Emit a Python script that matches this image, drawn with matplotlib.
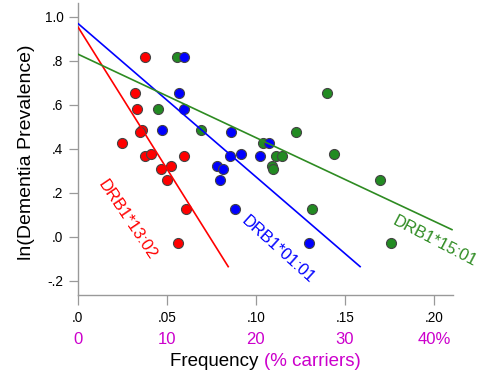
import matplotlib
matplotlib.use("Agg")
import matplotlib.pyplot as plt
import matplotlib.transforms as mtransforms
import numpy as np

plt.rcParams['font.family'] = ['Liberation Sans', 'DejaVu Sans']

# ---- data ----
red_x = [0.0378, 0.0323, 0.0331, 0.0361, 0.0351, 0.0247, 0.0379, 0.0410,
         0.0466, 0.0525, 0.0499, 0.0598, 0.0609, 0.0561]
red_y = [0.818, 0.655, 0.580, 0.484, 0.475, 0.425, 0.367, 0.377,
         0.308, 0.321, 0.256, 0.367, 0.125, -0.029]

blue_x = [0.0598, 0.0570, 0.0599, 0.0472, 0.0859, 0.0855, 0.0915, 0.0780,
          0.0817, 0.0799, 0.1025, 0.1071, 0.0883, 0.1298]
blue_y = [0.818, 0.655, 0.580, 0.484, 0.475, 0.368, 0.377, 0.320,
          0.308, 0.258, 0.368, 0.427, 0.126, -0.029]

green_x = [0.0556, 0.0451, 0.0694, 0.1400, 0.1225, 0.1037, 0.1438, 0.1110,
           0.1149, 0.1088, 0.1094, 0.1698, 0.1313, 0.1758]
green_y = [0.818, 0.580, 0.484, 0.655, 0.475, 0.426, 0.377, 0.368,
           0.368, 0.320, 0.307, 0.258, 0.126, -0.029]

# fit lines: (x_start, x_end, intercept, slope)
red_fit = (0.0, 0.0847, 0.955, -12.92)
blue_fit = (0.0, 0.1588, 0.970, -6.98)
green_fit = (0.0, 0.2104, 0.830, -3.80)

labels = ["DRB1*13:02", "DRB1*01:01", "DRB1*15:01"]

x_ticks = [0.0, 0.05, 0.10, 0.15, 0.20]
x_tick_labels = [".0", ".05", ".10", ".15", ".20"]
carrier_labels = ["0", "10", "20", "30", "40%"]
y_ticks = [-0.2, 0.0, 0.2, 0.4, 0.6, 0.8, 1.0]
y_tick_labels = ["-.2", ".0", ".2", ".4", ".6", ".8", "1.0"]

RED = '#ff0000'
BLUE = '#0000ff'
GREEN = '#228b22'
LGREEN = '#2e8b22'
MAG = '#cc00cc'

fig = plt.figure(figsize=(4.83, 3.85), dpi=100)
ax = fig.add_axes([77.7 / 483, 1 - 295 / 385, (452.7 - 77.7) / 483, (295 - 3) / 385])

ms = 52
ax.scatter(red_x, red_y, s=ms, c=RED, edgecolors='#444444', linewidths=0.8, zorder=3)
ax.scatter(green_x, green_y, s=ms, c=GREEN, edgecolors='#444444', linewidths=0.8, zorder=3)
ax.scatter(blue_x, blue_y, s=ms, c=BLUE, edgecolors='#444444', linewidths=0.8, zorder=3)

for fit, col in [(red_fit, RED), (blue_fit, BLUE), (green_fit, LGREEN)]:
    x0, x1, b, m = fit
    xs = np.array([x0, x1])
    ax.plot(xs, b + m * xs, color=col, lw=1.2, zorder=4, solid_capstyle='butt')

ax.set_xlim(0, 0.2104)
ax.set_ylim(-0.265, 1.062)
ax.set_xticks(x_ticks)
ax.set_xticklabels(x_tick_labels, fontsize=9.8)
ax.set_yticks(y_ticks)
ax.set_yticklabels(y_tick_labels, fontsize=9.8)
ax.tick_params(axis='x', direction='out', length=7, width=0.9, color='#999999', pad=4.5)
ax.tick_params(axis='y', direction='out', length=6.8, width=0.9, color='#999999', pad=3.5)
for s in ['top', 'right']:
    ax.spines[s].set_visible(False)
for s in ['left', 'bottom']:
    ax.spines[s].set_color('#999999')
    ax.spines[s].set_linewidth(1.0)

# carriers labels
trans = mtransforms.blended_transform_factory(ax.transData, ax.transAxes)
for xv, lab in zip(x_ticks, carrier_labels):
    ax.text(xv, -0.151, lab, transform=trans, ha='center', va='center',
            color=MAG, fontsize=12, clip_on=False)

# line labels
ax.text(0.0280, 0.075, labels[0], color=RED, fontsize=12, rotation=-56,
        rotation_mode='anchor', ha='center', va='center')
ax.text(0.1121, -0.06, labels[1], color=BLUE, fontsize=12, rotation=-42,
        rotation_mode='anchor', ha='center', va='center')
ax.text(0.2005, -0.02, labels[2], color=LGREEN, fontsize=12, rotation=-27.5,
        rotation_mode='anchor', ha='center', va='center', clip_on=False)

# y label
fig.text(27 / 483, 1 - 152 / 385, "ln(Dementia Prevalence)", rotation=90,
         ha='center', va='center', fontsize=14)

# x label, two colours
fig.canvas.draw()
r = fig.canvas.get_renderer()
t1 = fig.text(0, 0, "Frequency ", fontsize=13.5, color='black')
t2 = fig.text(0, 0, "(% carriers)", fontsize=13.5, color=MAG)
w1 = t1.get_window_extent(r).width
w2 = t2.get_window_extent(r).width
cx = 265.5
start = cx - (w1 + w2) / 2
yfig = 1 - 362 / 385
t1.set_position((start / 483, yfig))
t1.set_va('center')
t2.set_position(((start + w1) / 483, yfig))
t2.set_va('center')

fig.savefig("out.png", dpi=100)
